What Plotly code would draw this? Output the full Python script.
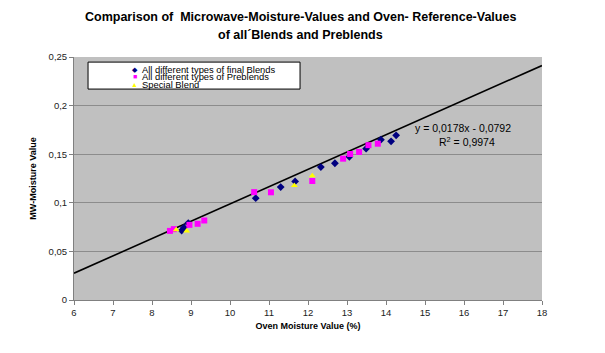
import plotly.graph_objects as go

# Data
blends_x = [8.76, 8.82, 8.93, 10.66, 11.30, 11.67, 12.33, 12.69, 13.06, 13.49, 13.87, 14.13, 14.26]
blends_y = [0.0714, 0.0745, 0.0791, 0.1048, 0.1162, 0.1220, 0.1368, 0.1407, 0.1474, 0.1557, 0.1649, 0.1632, 0.1694]

preblends_x = [8.46, 8.56, 8.96, 9.17, 9.34, 10.62, 11.05, 12.11, 12.90, 13.08, 13.31, 13.55, 13.79]
preblends_y = [0.0711, 0.0729, 0.0773, 0.0784, 0.0818, 0.1110, 0.1108, 0.1224, 0.1454, 0.1502, 0.1523, 0.1593, 0.1608]

special_x = [8.62, 8.89, 11.65, 12.11]
special_y = [0.0722, 0.0711, 0.1178, 0.1278]

fit_slope = 0.0178
fit_intercept = -0.0792
fit_x = [6, 18]
fit_y = [fit_slope * v + fit_intercept for v in fit_x]

x_ticks = list(range(6, 19))
y_ticks = [0, 0.05, 0.1, 0.15, 0.2, 0.25]

series_names = ["All different types of final Blends", "All different types of Preblends", "Special Blend"]
series_colors = ["#000080", "#FF00FF", "#FFFF00"]
series_glyphs = ["◆", "■", "▲"]

FONT = "Liberation Sans, Arial, sans-serif"

fig = go.Figure()
fig.add_trace(go.Scatter(x=fit_x, y=fit_y, mode="lines", line=dict(color="black", width=1.6),
                         showlegend=False, hoverinfo="skip"))
fig.add_trace(go.Scatter(x=blends_x, y=blends_y, mode="markers", name=series_names[0], showlegend=False,
                         marker=dict(symbol="diamond", color=series_colors[0], size=6)))
fig.add_trace(go.Scatter(x=preblends_x, y=preblends_y, mode="markers", name=series_names[1], showlegend=False,
                         marker=dict(symbol="square", color=series_colors[1], size=6)))
fig.add_trace(go.Scatter(x=special_x, y=special_y, mode="markers", name=series_names[2], showlegend=False,
                         marker=dict(symbol="triangle-up", color=series_colors[2], size=6)))

annotations = [
    dict(text="<b>Comparison of  Microwave-Moisture-Values and Oven- Reference-Values</b>",
         xref="paper", yref="paper", x=0.483, y=1.1646, showarrow=False, xanchor="center", yanchor="middle",
         font=dict(family=FONT, size=12.5, color="black")),
    dict(text="<b>of all´Blends and Preblends</b>",
         xref="paper", yref="paper", x=0.483, y=1.0905, showarrow=False, xanchor="center", yanchor="middle",
         font=dict(family=FONT, size=12.5, color="black")),
    dict(text="y = 0,0178x - 0,0792", xref="paper", yref="paper", x=0.832, y=0.708, showarrow=False,
         xanchor="center", yanchor="middle", font=dict(size=10.5, color="black")),
    dict(text="R<sup>2</sup> = 0,9974", xref="paper", yref="paper", x=0.839, y=0.652, showarrow=False,
         xanchor="center", yanchor="middle", font=dict(size=10.5, color="black")),
]
legend_rows_y = [0.9506, 0.9177, 0.8848]
for name, col, glyph, yy in zip(series_names, series_colors, series_glyphs, legend_rows_y):
    annotations.append(dict(text=f"<span style='color:{col}'>{glyph}</span>", xref="paper", yref="paper",
                            x=0.130, y=yy, showarrow=False, xanchor="center", yanchor="middle",
                            font=dict(size=7, color=col)))
    annotations.append(dict(text=name, xref="paper", yref="paper", x=0.142, y=yy, showarrow=False,
                            xanchor="left", yanchor="middle", font=dict(size=9.4, color="black")))

fig.update_layout(
    width=605, height=353,
    margin=dict(l=74, r=63, t=57, b=53),
    paper_bgcolor="white",
    plot_bgcolor="#C0C0C0",
    separators=", ",
    font=dict(family=FONT, size=9, color="#222"),
    showlegend=False,
    xaxis=dict(range=[6, 18], tickvals=x_ticks, showgrid=False, zeroline=False,
               showline=True, linecolor="#808080", linewidth=1, ticks="outside", ticklen=4,
               tickcolor="#808080", tickfont=dict(size=9.5, color="#222"),
               title=dict(text="<b>Oven Moisture Value (%)</b>", font=dict(size=9, color="black"), standoff=5)),
    yaxis=dict(range=[0, 0.25], tickvals=y_ticks, showgrid=True, gridcolor="#8C8C8C", gridwidth=1,
               zeroline=False, showline=True, linecolor="#808080", linewidth=1, ticks="outside",
               ticklen=4, tickcolor="#808080", tickfont=dict(size=9.5, color="#222"),
               title=dict(text="<b>MW-Moisture Value</b>", font=dict(size=9, color="black"), standoff=10)),
    shapes=[dict(type="rect", xref="paper", yref="paper", x0=0.030, x1=0.483, y0=0.868, y1=0.979,
                 fillcolor="white", line=dict(color="black", width=1), layer="below")],
    annotations=annotations,
)

fig.write_html("out.html")
